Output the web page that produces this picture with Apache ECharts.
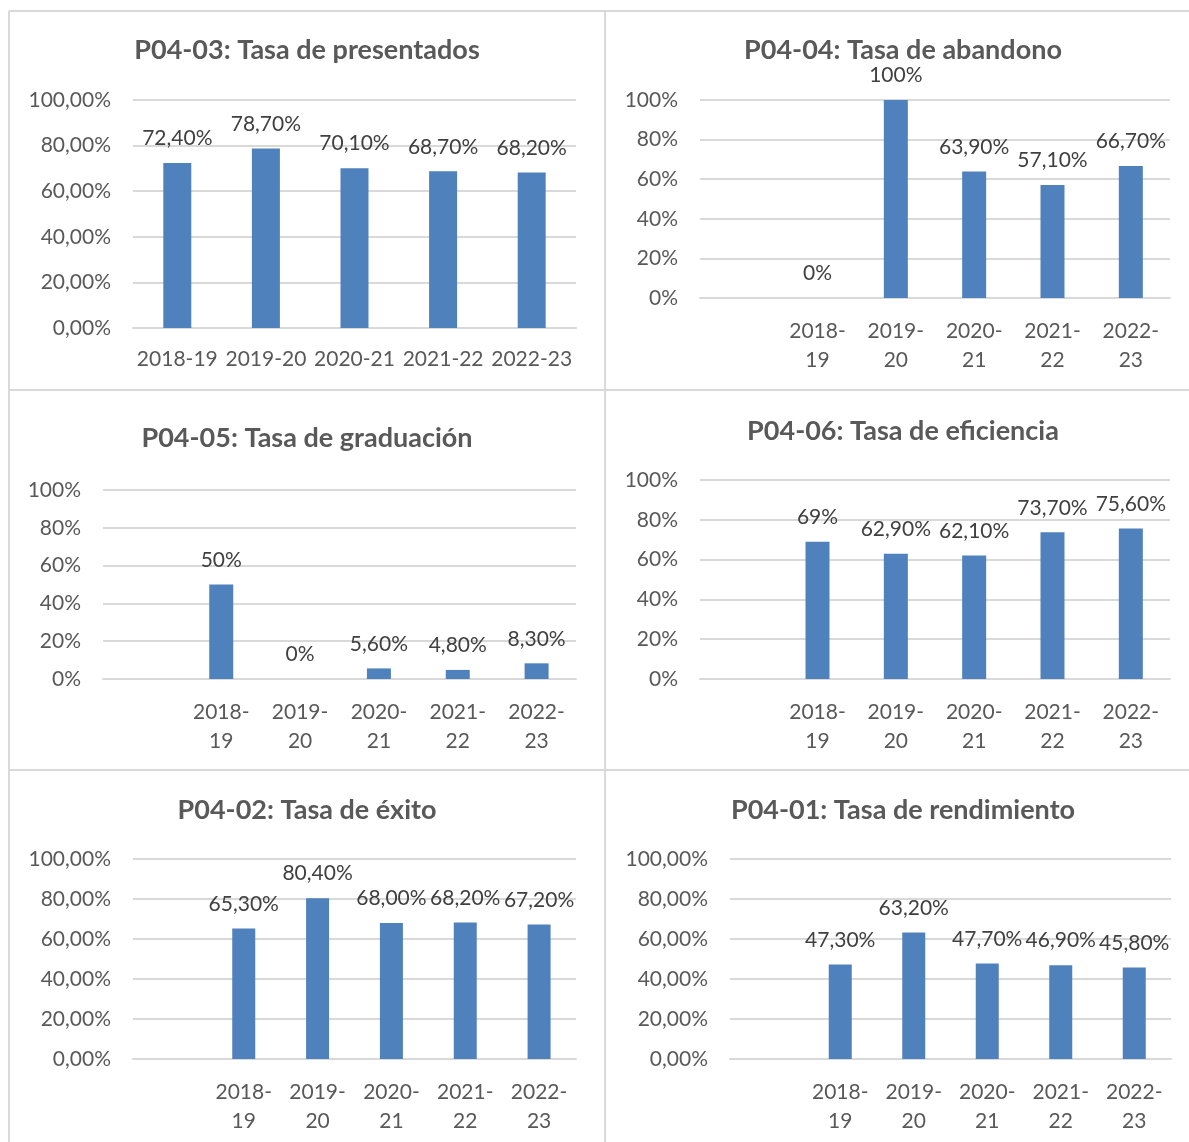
<!DOCTYPE html>
<html>
<head>
<meta charset="utf-8">
<script src="https://cdn.jsdelivr.net/npm/echarts@6/dist/echarts.min.js"></script>
<style>
  html, body { margin: 0; padding: 0; background: #ffffff; }
  #main { width: 1189px; height: 1142px; }
</style>
</head>
<body>
<div id="main"></div>
<script>
// Academic years shown on every panel
const categories = ['2018-19', '2019-20', '2020-21', '2021-22', '2022-23'];

// Rates per indicator (percent)
const presentados = [72.4, 78.7, 70.1, 68.7, 68.2];
const abandono = [0, 100, 63.9, 57.1, 66.7];
const graduacion = [50, 0, 5.6, 4.8, 8.3];
const eficiencia = [69, 62.9, 62.1, 73.7, 75.6];
const exito = [65.3, 80.4, 68.0, 68.2, 67.2];
const rendimiento = [47.3, 63.2, 47.7, 46.9, 45.8];

// Value axis ticks (percent)
const yTicks = [0, 20, 40, 60, 80, 100];

const FONT = 'Lato';
const BAR = '#4f81bd';
const GRID_LINE = '#d9d9d9';
const LABEL_SIZE = 21;

// "fixed" panels always show two decimals; the others drop them for whole numbers
function pct(v, fixed) {
  const s = (fixed || !Number.isInteger(v)) ? v.toFixed(2) : String(v);
  return s.replace('.', ',') + '%';
}

const panels = [
  { title: 'P04-03: Tasa de presentados', values: presentados, fixed: true, lead: false, wrap: false,
    rect: { left: 133, top: 100, width: 443, height: 228 }, tx: 307, ty: 50, barWidth: 28 },
  { title: 'P04-04: Tasa de abandono', values: abandono, fixed: false, lead: true, wrap: true,
    rect: { left: 700, top: 100, width: 470, height: 198 }, tx: 903, ty: 50, barWidth: 24 },
  { title: 'P04-05: Tasa de graduación', values: graduacion, fixed: false, lead: true, wrap: true,
    rect: { left: 103, top: 490, width: 473, height: 189 }, tx: 307, ty: 438, barWidth: 24 },
  { title: 'P04-06: Tasa de eficiencia', values: eficiencia, fixed: false, lead: true, wrap: true,
    rect: { left: 700, top: 480, width: 470, height: 199 }, tx: 903, ty: 431, barWidth: 24 },
  { title: 'P04-02: Tasa de éxito', values: exito, fixed: true, lead: true, wrap: true,
    rect: { left: 133, top: 859, width: 443, height: 200 }, tx: 307, ty: 810, barWidth: 23 },
  { title: 'P04-01: Tasa de rendimiento', values: rendimiento, fixed: true, lead: true, wrap: true,
    rect: { left: 730, top: 859, width: 441, height: 200 }, tx: 903, ty: 810, barWidth: 23 }
];

const option = {
  backgroundColor: '#ffffff',
  animation: false,
  title: [],
  grid: [],
  xAxis: [],
  yAxis: [],
  series: [],
  graphic: []
};

panels.forEach((p, i) => {
  option.title.push({
    text: p.title,
    left: p.tx,
    top: p.ty - 16,
    textAlign: 'center',
    padding: 0,
    textStyle: { fontFamily: FONT, fontWeight: 'bold', fontSize: 27, lineHeight: 32, color: '#595959' }
  });
  option.grid.push(Object.assign({ containLabel: false }, p.rect));
  const cats = p.lead ? [''].concat(categories) : categories.slice();
  option.xAxis.push({
    type: 'category',
    gridIndex: i,
    data: cats,
    axisTick: { show: false },
    axisLine: { show: true, lineStyle: { color: GRID_LINE, width: 2 } },
    axisLabel: {
      interval: 0,
      margin: p.wrap ? 19 : 17,
      fontFamily: FONT,
      fontSize: LABEL_SIZE,
      lineHeight: 29,
      color: '#595959',
      formatter: v => p.wrap ? v.replace('-', '-\n') : v
    }
  });
  option.yAxis.push({
    type: 'value',
    gridIndex: i,
    min: yTicks[0],
    max: yTicks[yTicks.length - 1],
    interval: yTicks[1] - yTicks[0],
    axisLine: { show: false },
    axisTick: { show: false },
    splitLine: { lineStyle: { color: GRID_LINE, width: 2 } },
    axisLabel: {
      margin: 22,
      fontFamily: FONT,
      fontSize: LABEL_SIZE,
      color: '#595959',
      formatter: v => pct(v, p.fixed)
    }
  });
  const data = p.lead ? [null].concat(p.values) : p.values.slice();
  option.series.push({
    type: 'bar',
    xAxisIndex: i,
    yAxisIndex: i,
    data: data,
    barWidth: p.barWidth,
    itemStyle: { color: BAR },
    label: {
      show: true,
      position: 'top',
      distance: 14,
      fontFamily: FONT,
      fontSize: LABEL_SIZE,
      color: '#404040',
      formatter: params => pct(params.value, p.fixed)
    }
  });
});

// Panel frame lines
const frame = [
  [9, 11, 1189, 11],
  [9, 11, 9, 1142],
  [605, 11, 605, 1142],
  [9, 390, 1189, 390],
  [9, 770, 1189, 770]
];
frame.forEach(f => {
  option.graphic.push({
    type: 'line',
    shape: { x1: f[0], y1: f[1], x2: f[2], y2: f[3] },
    style: { stroke: GRID_LINE, lineWidth: 2 },
    silent: true
  });
});

const chart = echarts.init(document.getElementById('main'), null, { renderer: 'canvas' });
chart.setOption(option);
</script>
</body>
</html>
